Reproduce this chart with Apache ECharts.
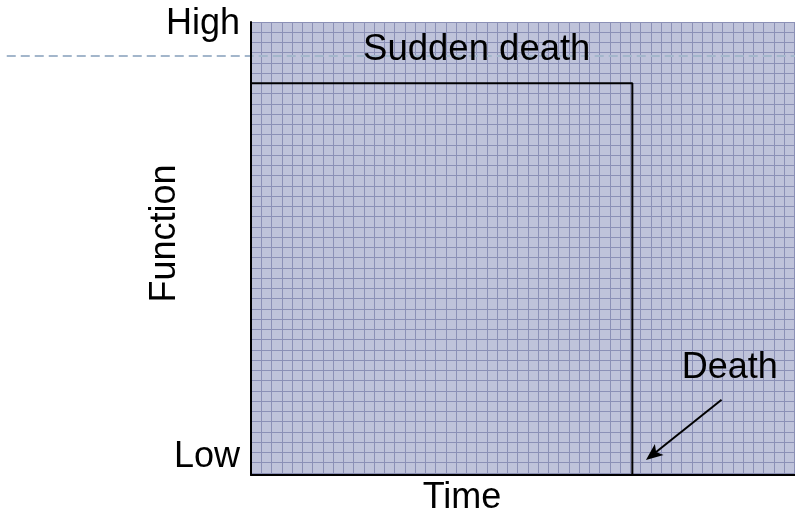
<!DOCTYPE html>
<html>
<head>
<meta charset="utf-8">
<script src="https://cdn.jsdelivr.net/npm/echarts@6/dist/echarts.min.js"></script>
<style>
html,body{margin:0;padding:0;background:#fff;}
#chart{width:795px;height:521px;}
</style>
</head>
<body>
<div id="chart"></div>
<script>
// ---- data ----
var yTickValues = [0, 100];
var yTickLabels = ['Low', 'High'];
var axisNames = { x: 'Time', y: 'Function' };
// sudden-death curve (time, function)
var curveTime = [0, 70.1, 70.1];
var curveFunc = [86.5, 86.5, 0];
// "high" reference level (dashed)
var refTime = [-44.9, 100];
var refFunc = [92.5, 92.5];
// arrow pointing to death
var arrowFrom = [86.5, 16.6];
var arrowTo = [72.6, 3.3];
// annotations
var annoText = ['Sudden death', 'Death'];
var annoTime = [41.5, 88.0];
var annoFunc = [93.8, 23.7];
var annoSize = [36.5, 36];

var FONT = "'Liberation Sans', Arial, sans-serif";
var chart = echarts.init(document.getElementById('chart'), null, { renderer: 'canvas' });

function pairs(xs, ys) { return xs.map(function (x, i) { return [x, ys[i]]; }); }

var option = {
  animation: false,
  backgroundColor: '#ffffff',
  grid: {
    left: 251, right: 0, top: 22, bottom: 45,
    show: true, backgroundColor: '#bfc3da', borderWidth: 0
  },
  xAxis: [
    {
      type: 'value', min: 0, max: 100, z: 10,
      name: axisNames.x, nameLocation: 'middle', nameGap: 5, nameMoveOverlap: false,
      nameTextStyle: { fontFamily: FONT, fontSize: 36, color: '#000', padding: [0, 122, 0, 0] },
      axisLine: { show: true, onZero: false, lineStyle: { color: '#000', width: 2 } },
      axisTick: { show: false }, axisLabel: { show: false }, splitLine: { show: false }
    },
    {
      type: 'value', min: 0, max: 53.07, interval: 1, position: 'top', z: 1,
      axisLine: { show: false }, axisTick: { show: false }, axisLabel: { show: false },
      splitLine: { show: true, showMinLine: false, showMaxLine: false, lineStyle: { color: '#8b90b6', width: 1 } }
    }
  ],
  yAxis: [
    {
      type: 'value', min: 0, max: 100, interval: 100, position: 'left', z: 10,
      name: axisNames.y, nameLocation: 'middle', nameGap: 68, nameRotate: 90, nameMoveOverlap: false,
      nameTextStyle: { fontFamily: FONT, fontSize: 36, color: '#000', padding: [0, 0, 0, 30] },
      axisLine: { show: true, onZero: false, lineStyle: { color: '#000', width: 2 } },
      axisTick: { show: false }, splitLine: { show: false },
      axisLabel: {
        show: true, margin: 11, color: '#000', fontFamily: FONT, fontSize: 36,
        formatter: function (v) {
          var i = yTickValues.indexOf(v);
          var t = i >= 0 ? yTickLabels[i] : '';
          return v === yTickValues[0] ? '{low|' + t + '}' : '{high|' + t + '}';
        },
        rich: {
          low: { fontFamily: FONT, fontSize: 36, color: '#000', padding: [0, 0, 35, 0] },
          high: { fontFamily: FONT, fontSize: 36, color: '#000', padding: [5, 0, 0, 0] }
        }
      }
    },
    {
      type: 'value', min: 0, max: 44.2, interval: 1, inverse: true, position: 'right', z: 1,
      axisLine: { show: false }, axisTick: { show: false }, axisLabel: { show: false },
      splitLine: { show: true, showMinLine: true, showMaxLine: false, lineStyle: { color: '#8b90b6', width: 1 } }
    }
  ],
  series: [
    {
      // dashed "high" reference level, reaching out past the axis
      type: 'custom', xAxisIndex: 0, yAxisIndex: 0, silent: true, clip: false, z: 3,
      data: [0],
      renderItem: function (params, api) {
        var pts = pairs(refTime, refFunc).map(function (p) { return api.coord(p); });
        return {
          type: 'polyline',
          shape: { points: pts },
          style: { stroke: '#a3b6cb', lineWidth: 2, lineDash: [9, 5], fill: null }
        };
      }
    },
    {
      type: 'line', xAxisIndex: 0, yAxisIndex: 0, z: 4,
      data: pairs(curveTime, curveFunc), showSymbol: false, silent: true,
      lineStyle: { color: '#000', width: 2 }
    },
    {
      // arrow
      type: 'custom', xAxisIndex: 0, yAxisIndex: 0, silent: true, clip: false, z: 5,
      data: [0],
      renderItem: function (params, api) {
        var a = api.coord(arrowFrom), b = api.coord(arrowTo);
        var dx = b[0] - a[0], dy = b[1] - a[1];
        var len = Math.sqrt(dx * dx + dy * dy);
        var ux = dx / len, uy = dy / len;
        var head = 17, half = 7;
        var base = [b[0] - ux * head, b[1] - uy * head];
        var notch = [b[0] - ux * (head - 4), b[1] - uy * (head - 4)];
        var p1 = [base[0] - uy * half, base[1] + ux * half];
        var p2 = [base[0] + uy * half, base[1] - ux * half];
        return {
          type: 'group',
          children: [
            { type: 'line', shape: { x1: a[0], y1: a[1], x2: notch[0], y2: notch[1] },
              style: { stroke: '#000', lineWidth: 2 } },
            { type: 'polygon', shape: { points: [b, p1, notch, p2] },
              style: { fill: '#000', stroke: null } }
          ]
        };
      }
    },
    {
      // text annotations
      type: 'custom', xAxisIndex: 0, yAxisIndex: 0, silent: true, clip: false, z: 6,
      data: annoText.map(function (t, i) { return [annoTime[i], annoFunc[i], i]; }),
      renderItem: function (params, api) {
        var i = api.value(2);
        var p = api.coord([api.value(0), api.value(1)]);
        return {
          type: 'text', x: p[0], y: p[1],
          style: {
            text: annoText[i], fill: '#000',
            font: annoSize[i] + 'px ' + FONT,
            align: 'center', verticalAlign: 'middle'
          }
        };
      }
    }
  ]
};
chart.setOption(option);
</script>
</body>
</html>
